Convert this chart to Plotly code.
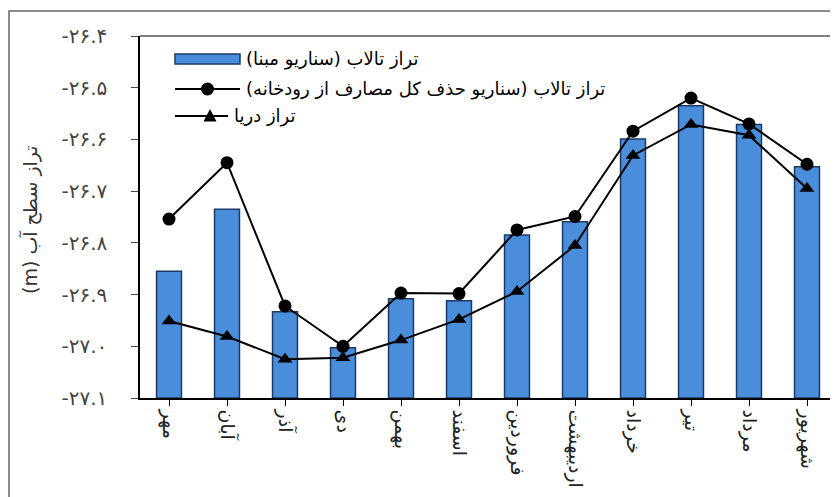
import plotly.graph_objects as go

months = ["مهر", "آبان", "آذر", "دی", "بهمن", "اسفند", "فروردین", "اردیبهشت", "خرداد", "تیر", "مرداد", "شهریور"]
base_scenario = [-26.855, -26.735, -26.933, -27.003, -26.908, -26.912, -26.785, -26.759, -26.599, -26.535, -26.571, -26.653]
no_withdrawal = [-26.754, -26.645, -26.922, -27.000, -26.897, -26.898, -26.775, -26.749, -26.584, -26.520, -26.570, -26.648]
sea_level = [-26.951, -26.981, -27.025, -27.022, -26.988, -26.948, -26.894, -26.805, -26.631, -26.571, -26.592, -26.695]
y_ticks = [-27.1, -27.0, -26.9, -26.8, -26.7, -26.6, -26.5, -26.4]
y_tick_labels = ["-۲۷.۱", "-۲۷.۰", "-۲۶.۹", "-۲۶.۸", "-۲۶.۷", "-۲۶.۶", "-۲۶.۵", "-۲۶.۴"]

names = ["تراز تالاب (سناریو مبنا)", "تراز تالاب (سناریو حذف کل مصارف از رودخانه)", "تراز دریا"]
y_title = "تراز سطح آب (m)"
RLE, PDF = "\u202b", "\u202c"
FONT = "DejaVu Sans"
BASE = y_ticks[0]

# page has an 8px body margin: target screen coords minus 8
OFF = 8
W, H = 838, 497
L, T = 140 - OFF, 36 - OFF
R = W - (836 - OFF)
B = H - (398 - OFF)
PW, PH = W - L - R, H - T - B


def px(x):
    return (x - OFF - L) / PW


def py(y):
    return (H - B - (y - OFF)) / PH


BAR_COLOR = "#4a8edb"
BAR_EDGE = "#1c3a66"

fig = go.Figure()
fig.add_trace(go.Bar(
    x=months, y=[v - BASE for v in base_scenario], base=BASE,
    name=names[0], showlegend=False,
    marker=dict(color=BAR_COLOR, line=dict(color=BAR_EDGE, width=1.5)),
))
fig.add_trace(go.Scatter(
    x=months, y=no_withdrawal, mode="lines+markers", name=names[1], showlegend=False,
    line=dict(color="black", width=2), marker=dict(symbol="circle", size=13, color="black"),
))
fig.add_trace(go.Scatter(
    x=months, y=sea_level, mode="lines+markers", name=names[2], showlegend=False,
    line=dict(color="black", width=2), marker=dict(symbol="triangle-up", size=13, color="black"),
))

# manual legend (symbol left, RTL text right)
rows = [59, 89, 116]
shapes = [
    dict(type="line", xref="paper", yref="paper", x0=0, x1=1, y0=1, y1=1, line=dict(color="#555", width=1.5)),
    dict(type="line", xref="paper", yref="paper", x0=1, x1=1, y0=0, y1=1, line=dict(color="#999", width=1)),
    dict(type="rect", xref="paper", yref="paper", x0=px(9), x1=px(850), y0=py(520), y1=py(11),
         line=dict(color="#666", width=1.5), layer="below"),
    dict(type="rect", xref="paper", yref="paper", x0=px(175), x1=px(240), y0=py(rows[0] + 5), y1=py(rows[0] - 5),
         fillcolor=BAR_COLOR, line=dict(color=BAR_EDGE, width=1.5)),
    dict(type="line", xref="paper", yref="paper", x0=px(175), x1=px(240), y0=py(rows[1]), y1=py(rows[1]),
         line=dict(color="black", width=2)),
    dict(type="circle", xref="paper", yref="paper", x0=px(201), x1=px(214), y0=py(rows[1] + 6.5), y1=py(rows[1] - 6.5),
         fillcolor="black", line=dict(color="black", width=0)),
    dict(type="line", xref="paper", yref="paper", x0=px(175), x1=px(228), y0=py(rows[2]), y1=py(rows[2]),
         line=dict(color="black", width=2)),
    dict(type="path", xref="paper", yref="paper",
         path=f"M {px(203.5)} {py(rows[2] + 5.5)} L {px(216.5)} {py(rows[2] + 5.5)} L {px(210)} {py(rows[2] - 7)} Z",
         fillcolor="black", line=dict(color="black", width=0)),
]
annotations = [
    dict(xref="paper", yref="paper", x=px(x0), y=py(yy), xanchor="left", yanchor="middle", showarrow=False,
         text=RLE + nm + PDF, font=dict(family=FONT, size=18, color="black"))
    for nm, yy, x0 in zip(names, rows, [244, 244, 232])
]
annotations.append(dict(xref="paper", yref="paper", x=px(30), y=py(220), xanchor="center", yanchor="middle",
                        showarrow=False, textangle=-90, text=RLE + y_title + PDF,
                        font=dict(family=FONT, size=19, color="#333")))

fig.update_layout(
    width=W, height=H,
    margin=dict(l=L, r=R, t=T, b=B),
    paper_bgcolor="white", plot_bgcolor="white",
    font=dict(family=FONT, size=13, color="#222"),
    bargap=0.57,
    showlegend=False,
    xaxis=dict(range=[-0.5, 11.5], showline=True, linecolor="black", linewidth=1.5, ticks="outside",
               ticklen=6, tickcolor="black", tickangle=90, tickfont=dict(size=19, color="#222"),
               showgrid=False, automargin=False),
    yaxis=dict(range=[-27.1, -26.4], tickvals=y_ticks, ticktext=y_tick_labels, showline=True,
               linecolor="black", linewidth=1.5, ticks="outside", ticklen=7, tickcolor="#444",
               ticklabelstandoff=20, showgrid=False, zeroline=False, automargin=False,
               tickfont=dict(size=20, color="#444")),
    shapes=shapes,
    annotations=annotations,
)

fig.write_html("out.html")
